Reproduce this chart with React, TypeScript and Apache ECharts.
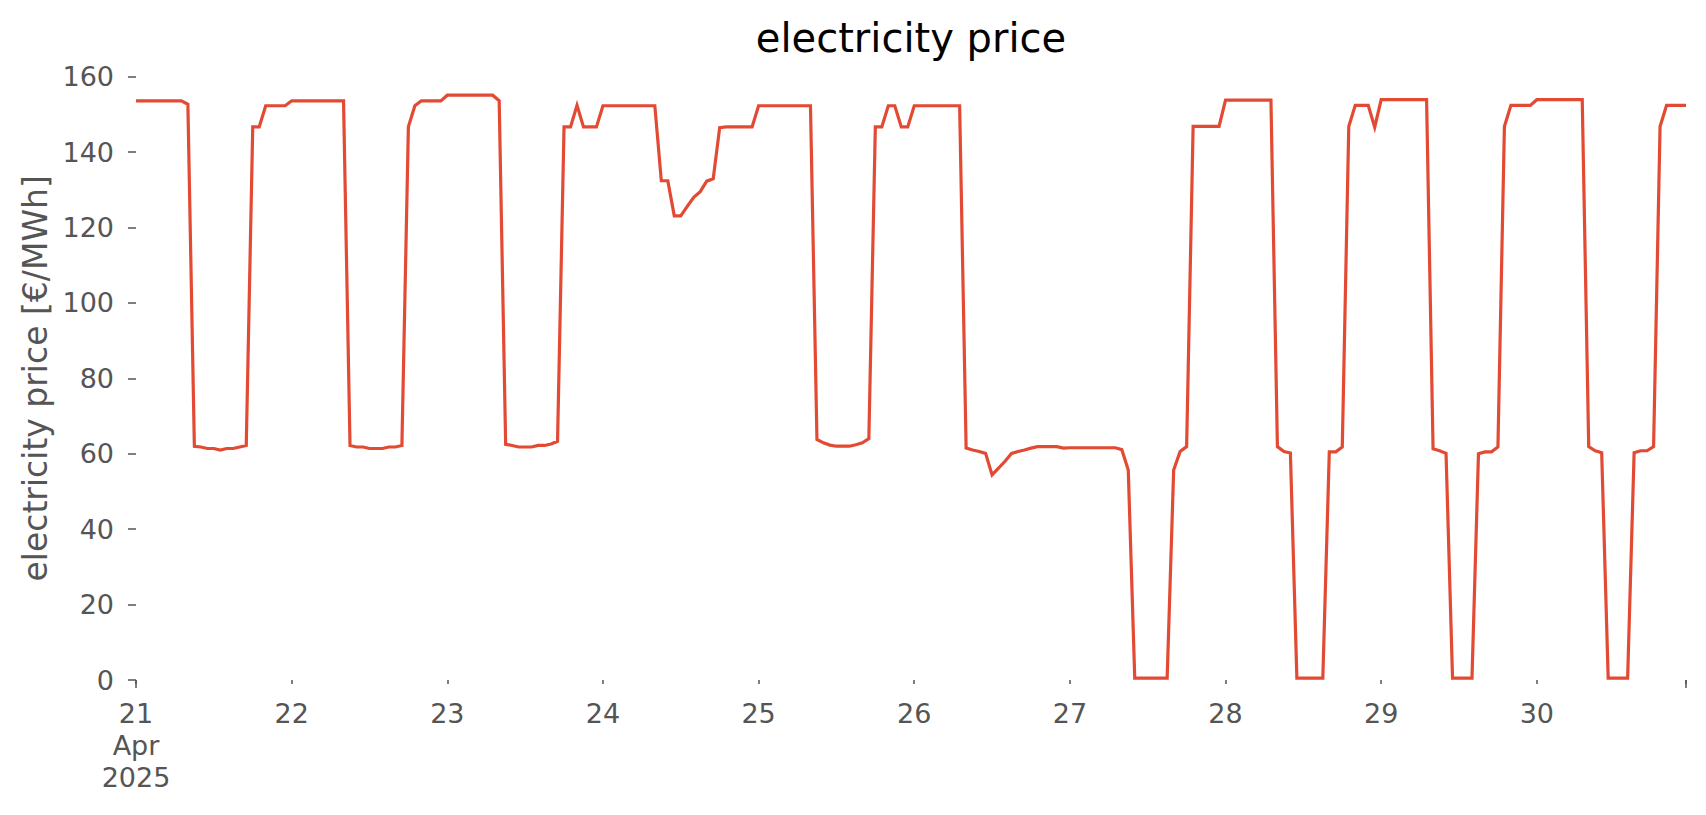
import React, { useEffect, useRef } from "react";
import * as echarts from "echarts";

// Hourly day-ahead prices, 21–30 April 2025 (€/MWh), one array per day (hours 0..23)
const apr21 = [153.6, 153.6, 153.6, 153.6, 153.6, 153.6, 153.6, 153.6, 152.7, 62.0, 61.8, 61.4, 61.4, 61.0, 61.4, 61.4, 61.8, 62.2, 146.7, 146.7, 152.3, 152.3, 152.3, 152.3];
const apr22 = [153.6, 153.6, 153.6, 153.6, 153.6, 153.6, 153.6, 153.6, 153.6, 62.2, 61.8, 61.8, 61.4, 61.4, 61.4, 61.8, 61.8, 62.2, 146.7, 152.3, 153.6, 153.6, 153.6, 153.6];
const apr23 = [155.1, 155.1, 155.1, 155.1, 155.1, 155.1, 155.1, 155.1, 153.6, 62.5, 62.2, 61.8, 61.8, 61.8, 62.2, 62.2, 62.6, 63.3, 146.7, 146.7, 152.4, 146.7, 146.7, 146.7];
const apr24 = [152.3, 152.3, 152.3, 152.3, 152.3, 152.3, 152.3, 152.3, 152.3, 132.4, 132.4, 123.1, 123.1, 125.6, 128.0, 129.5, 132.3, 132.9, 146.5, 146.7, 146.7, 146.7, 146.7, 146.7];
const apr25 = [152.3, 152.3, 152.3, 152.3, 152.3, 152.3, 152.3, 152.3, 152.3, 63.8, 62.9, 62.3, 62.0, 62.0, 62.0, 62.4, 62.9, 64.0, 146.7, 146.7, 152.3, 152.3, 146.7, 146.7];
const apr26 = [152.3, 152.3, 152.3, 152.3, 152.3, 152.3, 152.3, 152.3, 61.5, 61.0, 60.6, 60.1, 54.4, 56.2, 58.0, 60.1, 60.6, 61.0, 61.5, 61.9, 61.9, 61.9, 61.9, 61.5];
const apr27 = [61.6, 61.6, 61.6, 61.6, 61.6, 61.6, 61.6, 61.6, 61.1, 55.7, 0.5, 0.5, 0.5, 0.5, 0.5, 0.5, 55.7, 60.6, 61.9, 146.8, 146.8, 146.8, 146.8, 146.8];
const apr28 = [153.8, 153.8, 153.8, 153.8, 153.8, 153.8, 153.8, 153.8, 61.9, 60.6, 60.2, 0.5, 0.5, 0.5, 0.5, 0.5, 60.5, 60.5, 61.8, 146.8, 152.4, 152.4, 152.4, 146.6];
const apr29 = [153.9, 153.9, 153.9, 153.9, 153.9, 153.9, 153.9, 153.9, 61.3, 60.8, 60.1, 0.5, 0.5, 0.5, 0.5, 60.0, 60.5, 60.5, 61.8, 146.8, 152.4, 152.4, 152.4, 152.4];
const apr30 = [153.9, 153.9, 153.9, 153.9, 153.9, 153.9, 153.9, 153.9, 61.9, 60.8, 60.3, 0.5, 0.5, 0.5, 0.5, 60.3, 60.8, 60.8, 61.9, 146.8, 152.4, 152.4, 152.4, 152.4];

// Tick labels, one per day (at hour 0 of each day)
const dayTickLabels = ["21\nApr\n2025", "22", "23", "24", "25", "26", "27", "28", "29", "30"];

const chartTitle = "electricity price";
const yAxisTitle = "electricity price [€/MWh]";

const FONT = "DejaVu Sans";
const GREY = "#555555";

export default function App() {
  const ref = useRef<HTMLDivElement>(null);

  useEffect(() => {
    if (!ref.current) return;
    const chart = echarts.init(ref.current, null, { renderer: "svg" });

    const prices = [...apr21, ...apr22, ...apr23, ...apr24, ...apr25, ...apr26, ...apr27, ...apr28, ...apr29, ...apr30];
    const data = prices.map((v, i) => [i, v]);
    const lastHour = prices.length - 1;

    const gridBox = { left: 136, right: 20, top: 76.7, bottom: 135, containLabel: false };

    chart.setOption({
      animation: false,
      backgroundColor: "#ffffff",
      grid: [gridBox, { ...gridBox }],
      graphic: [
        {
          type: "text",
          x: 911,
          y: 38,
          style: {
            text: chartTitle,
            fontSize: 40,
            fontFamily: FONT,
            fill: "#000000",
            align: "center",
            verticalAlign: "middle",
          },
        },
      ],
      xAxis: [
        {
          type: "value",
          gridIndex: 0,
          min: 0,
          max: lastHour,
          interval: 24,
          offset: 3,
          axisLine: { show: false },
          splitLine: { show: false },
          axisTick: { show: true, length: 4, lineStyle: { color: GREY, width: 1.5 } },
          axisLabel: {
            fontSize: 27,
            lineHeight: 32,
            color: GREY,
            fontFamily: FONT,
            margin: 14,
            showMinLabel: true,
            showMaxLabel: true,
            formatter: (v: number) => {
              if (v % 24 !== 0) return "";
              return dayTickLabels[v / 24] ?? "";
            },
          },
        },
        {
          type: "value",
          gridIndex: 1,
          min: 0,
          max: lastHour,
          interval: lastHour,
          offset: 3,
          axisLine: { show: false },
          splitLine: { show: false },
          axisLabel: { show: false },
          axisTick: { show: true, length: 8, lineStyle: { color: GREY, width: 1.5 } },
        },
      ],
      yAxis: [
        {
          type: "value",
          gridIndex: 0,
          min: 0,
          max: 160,
          interval: 20,
          axisLine: { show: false },
          splitLine: { show: false },
          axisTick: { show: true, length: 8, lineStyle: { color: GREY, width: 1.5 } },
          axisLabel: { fontSize: 27, color: GREY, fontFamily: FONT, margin: 22 },
          name: yAxisTitle,
          nameLocation: "middle",
          nameGap: 80,
          nameTextStyle: { fontSize: 33, color: GREY, fontFamily: FONT },
        },
        {
          type: "value",
          gridIndex: 1,
          min: 0,
          max: 160,
          show: false,
        },
      ],
      series: [
        {
          type: "line",
          name: "price",
          xAxisIndex: 0,
          yAxisIndex: 0,
          data,
          showSymbol: false,
          symbol: "none",
          clip: false,
          lineStyle: { color: "#E24A33", width: 3.2, join: "miter" },
        },
      ],
    });

    return () => chart.dispose();
  }, []);

  return (
    <div
      ref={ref}
      style={{ position: "absolute", left: 0, top: 0, width: 1706, height: 815, background: "#ffffff" }}
    />
  );
}
